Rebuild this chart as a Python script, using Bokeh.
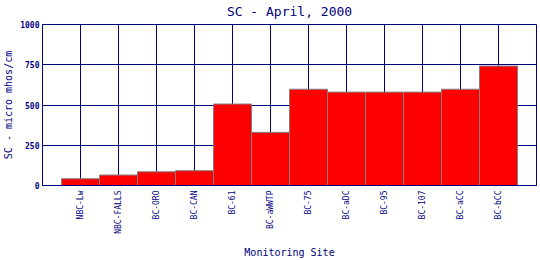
import math
from bokeh.plotting import figure
from bokeh.models import ColumnDataSource, Range1d, FixedTicker
from bokeh.embed import file_html
from bokeh.resources import INLINE

sites = ["NBC-Lw", "NBC-FALLS", "BC-ORO", "BC-CAN", "BC-61", "BC-aWWTP",
         "BC-75", "BC-aDC", "BC-95", "BC-107", "BC-aCC", "BC-bCC"]
sc_values = [42, 65, 85, 92, 506, 330, 598, 580, 580, 580, 598, 742]
y_ticks = [0, 250, 500, 750, 1000]

NAVY = "#000080"
FONT = "DejaVu Sans Mono"

positions = [i + 1 for i in range(len(sites))]
src = ColumnDataSource(dict(x=positions, top=sc_values, site=sites))

p = figure(width=540, height=260, output_backend="svg", toolbar_location=None,
           x_range=Range1d(0, len(sites) + 1), y_range=Range1d(0, 1000),
           min_border_left=42, min_border_right=4, min_border_top=24,
           min_border_bottom=75)

p.vbar(x="x", top="top", bottom=0, width=1.0, source=src,
       fill_color="#ff0000", line_color="#808080", line_width=1)

p.title.text = "SC - April, 2000"
p.title.align = "center"
p.title.vertical_align = "top"
p.title.text_color = NAVY
p.title.text_font = FONT
p.title.text_font_size = "13px"
p.title.text_font_style = "normal"
p.title.standoff = 7
p.title.offset = 0

p.outline_line_color = NAVY
p.outline_line_width = 1
p.outline_line_alpha = 1.0

p.xaxis.ticker = FixedTicker(ticks=positions)
p.xaxis.major_label_overrides = {pos: s for pos, s in zip(positions, sites)}
p.xaxis.major_label_orientation = math.pi / 2
p.yaxis.ticker = FixedTicker(ticks=y_ticks)

for ax in (p.xaxis, p.yaxis):
    ax.axis_line_color = NAVY
    ax.major_tick_line_color = None
    ax.minor_tick_line_color = None
    ax.major_tick_out = 0
    ax.major_tick_in = 0
    ax.minor_tick_out = 0
    ax.minor_tick_in = 0
    ax.major_label_text_color = NAVY
    ax.major_label_text_font = FONT
    ax.axis_label_text_color = NAVY
    ax.axis_label_text_font = FONT
    ax.axis_label_text_font_style = "normal"
    ax.axis_label_text_font_size = "10px"

p.xaxis.major_label_text_font_size = "8px"
p.yaxis.major_label_text_font_size = "8px"
p.yaxis.major_label_text_font_style = "bold"
p.xaxis.major_label_standoff = 5
p.yaxis.major_label_standoff = 3
p.xaxis.axis_label = "Monitoring Site"
p.yaxis.axis_label = "SC - micro mhos/cm"
p.xaxis.axis_label_standoff = 10
p.yaxis.axis_label_standoff = 3

p.grid.grid_line_color = NAVY
p.grid.grid_line_alpha = 1.0
p.grid.grid_line_width = 1

open("out.html", "w").write(file_html(p, INLINE))
